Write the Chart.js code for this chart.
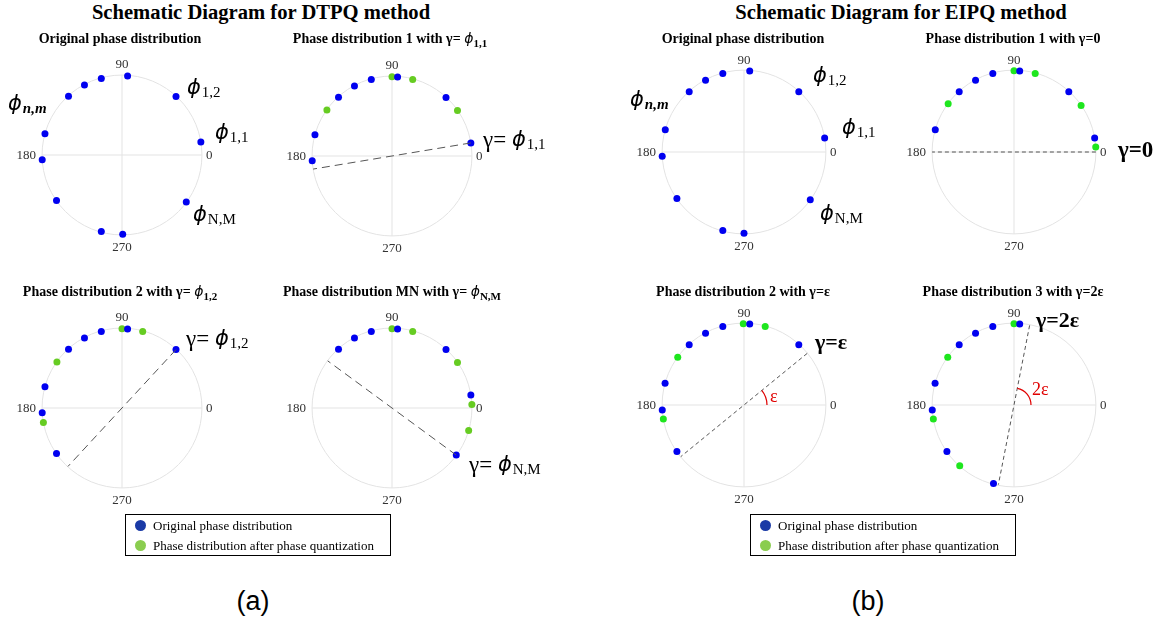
<!DOCTYPE html>
<html>
<head>
<meta charset="utf-8">
<script src="https://cdn.jsdelivr.net/npm/chart.js@4.4.1/dist/chart.umd.min.js"></script>
<style>
  body { margin: 0; background: #fff; }
  #page { position: relative; width: 1158px; height: 621px; overflow: hidden; font-family: "Liberation Serif", "Times New Roman", serif; color: #000; }
  .main { position: absolute; top: 0; width: 420px; font-size: 20.6px; font-weight: bold; line-height: 24px; text-align: center; white-space: nowrap; }
  .sub { position: absolute; width: 280px; font-size: 14px; font-weight: bold; line-height: 16px; text-align: center; white-space: nowrap; z-index: 2; }
  .sub sub { font-size: 11px; vertical-align: -4px; line-height: 0; }
  .phi { font-family: "DejaVu Sans", sans-serif; font-style: italic; font-weight: normal; font-size: 14px; }
  canvas { position: absolute; }
  .legend { position: absolute; border: 1px solid #000; width: 264px; height: 40px; font-size: 13px; }
  .legend .row { position: absolute; left: 0; height: 20px; line-height: 20px; white-space: nowrap; }
  .legend .dot { position: absolute; left: 9px; top: 4px; width: 11px; height: 11px; border-radius: 50%; }
  .legend .txt { position: absolute; left: 27px; top: 0; }
  .tag { position: absolute; width: 80px; text-align: center; font-family: "Liberation Sans", Arial, sans-serif; font-size: 27px; line-height: 30px; }
</style>
</head>
<body>
<div id="page">
  <div class="main" style="left:51px;">Schematic Diagram for DTPQ method</div>
  <div class="main" style="left:691px;">Schematic Diagram for EIPQ method</div>

  <div class="sub" style="left:-20px; top:31px;">Original phase distribution</div>
  <div class="sub" style="left:250px; top:30px;">Phase distribution 1 with γ= <span class="phi">ϕ</span><sub>1,1</sub></div>
  <div class="sub" style="left:-20px; top:283px;">Phase distribution 2 with γ= <span class="phi">ϕ</span><sub>1,2</sub></div>
  <div class="sub" style="left:252px; top:283px;">Phase distribution MN with γ= <span class="phi">ϕ</span><sub>N,M</sub></div>

  <div class="sub" style="left:603px; top:31px;">Original phase distribution</div>
  <div class="sub" style="left:873px; top:31px;">Phase distribution 1 with γ=0</div>
  <div class="sub" style="left:603px; top:284px;">Phase distribution 2 with γ=ε</div>
  <div class="sub" style="left:873px; top:284px;">Phase distribution 3 with γ=2ε</div>

  <canvas id="p1" width="320" height="236"></canvas>
  <canvas id="p2" width="320" height="236"></canvas>
  <canvas id="p3" width="320" height="236"></canvas>
  <canvas id="p4" width="320" height="236"></canvas>
  <canvas id="p5" width="320" height="236"></canvas>
  <canvas id="p6" width="320" height="236"></canvas>
  <canvas id="p7" width="320" height="236"></canvas>
  <canvas id="p8" width="320" height="236"></canvas>

  <div class="legend" style="left:125px; top:514px;">
    <div class="row" style="top:1px;"><span class="dot" style="background:#1a3aa6;"></span><span class="txt">Original phase distribution</span></div>
    <div class="row" style="top:21px;"><span class="dot" style="background:#8acd4f;"></span><span class="txt">Phase distribution after phase quantization</span></div>
  </div>
  <div class="legend" style="left:750px; top:514px;">
    <div class="row" style="top:1px;"><span class="dot" style="background:#1a3aa6;"></span><span class="txt">Original phase distribution</span></div>
    <div class="row" style="top:21px;"><span class="dot" style="background:#8acd4f;"></span><span class="txt">Phase distribution after phase quantization</span></div>
  </div>

  <div class="tag" style="left:213px; top:586px;">(a)</div>
  <div class="tag" style="left:828px; top:586px;">(b)</div>
</div>

<script>
// angle tick labels of every polar panel (degrees)
const angleTicks = [0, 90, 180, 270];

// DTPQ method, phases in degrees
const dtpqOriginal = [9.5, 47.5, 86, 105, 118, 132, 164.5, 183.5, 215, 255, 270.5, 323.5];
const dtpq1Orig = [9.5, 47.5, 86, 105, 118, 132, 164.5, 183.5];
const dtpq1Quant = [35, 75, 90, 144.5];
const dtpq2Orig = [47.5, 86, 105, 118, 132, 164.5, 183.5, 215];
const dtpq2Quant = [75, 90, 144.5, 190.5];
const dtpqMNOrig = [323.5, 9.5, 47.5, 86, 105, 118, 132];
const dtpqMNQuant = [343.5, 2.5, 35, 75, 90];
const dtpqGamma = [9.5, 47.5, 323.5];

// EIPQ method, phases in degrees
const eipqOriginal = [10, 48, 86, 105, 118, 132, 164, 183, 215, 255, 270, 324];
const eipq1Orig = [10, 48, 86, 105, 118, 132, 164];
const eipq1Quant = [3.5, 35, 75, 90, 143.5];
const eipq2Orig = [48, 86, 105, 118, 132, 164.5, 183.5, 215];
const eipq2Quant = [75, 90.5, 144, 190];
const eipq3Orig = [86, 105, 118, 132, 164.5, 183.5, 215, 255.5];
const eipq3Quant = [90, 144, 190, 228.5];
const eipqGamma = [0, 39.5, 79];

const BLUE = "#0000f0";
const GREEN_DTPQ = "#66cc22";
const GREEN_EIPQ = "#1ee61e";

function toXY(deg) {
  const a = (deg * Math.PI) / 180;
  return { x: Math.cos(a), y: Math.sin(a) };
}

function drawPhi(ctx, x, y, sub, subItalic) {
  ctx.textAlign = "left";
  ctx.textBaseline = "middle";
  ctx.font = 'italic 21px "DejaVu Sans"';
  ctx.fillText("ϕ", x, y);
  const w = ctx.measureText("ϕ").width;
  ctx.font = (subItalic ? "italic bold " : "") + '15px "Liberation Serif"';
  ctx.fillText(sub, x + w + 1, y + 4);
}

function drawGamma(ctx, x, y, sub) {
  ctx.textAlign = "left";
  ctx.textBaseline = "middle";
  ctx.font = '23px "Liberation Serif"';
  ctx.fillText("γ=", x, y);
  const w = ctx.measureText("γ= ").width;
  drawPhi(ctx, x + w, y, sub, false);
}

function makeGrid(panel) {
  return {
    id: "polarGrid",
    beforeDatasetsDraw(chart) {
      const ctx = chart.ctx;
      const xs = chart.scales.x, ys = chart.scales.y;
      const cx = xs.getPixelForValue(0), cy = ys.getPixelForValue(0);
      const r = xs.getPixelForValue(1) - cx;
      ctx.save();
      ctx.strokeStyle = "#e3e3e3";
      ctx.lineWidth = 1;
      ctx.beginPath();
      ctx.arc(cx, cy, r, 0, Math.PI * 2);
      ctx.stroke();
      ctx.beginPath();
      ctx.moveTo(cx - r, cy); ctx.lineTo(cx + r, cy);
      ctx.moveTo(cx, cy - r); ctx.lineTo(cx, cy + r);
      ctx.stroke();
      ctx.fillStyle = "#333";
      ctx.font = '13px "Liberation Serif"';
      ctx.textBaseline = "middle";
      angleTicks.forEach((t) => {
        const p = toXY(t);
        let tx = cx + p.x * r, ty = cy - p.y * r;
        if (t === 0) { ctx.textAlign = "left"; tx += 4; ty += 1; }
        else if (t === 180) { ctx.textAlign = "right"; tx -= 6; ty += 1; }
        else if (t === 90) { ctx.textAlign = "center"; ty -= 10; }
        else { ctx.textAlign = "center"; ty += 13; }
        ctx.fillText(String(t), tx, ty);
      });
      ctx.restore();
    },
    afterDatasetsDraw(chart) {
      const ctx = chart.ctx;
      const xs = chart.scales.x, ys = chart.scales.y;
      const cx = xs.getPixelForValue(0), cy = ys.getPixelForValue(0);
      ctx.save();
      ctx.fillStyle = "#000";
      (panel.labels || []).forEach((l) => {
        if (l.kind === "phi") drawPhi(ctx, cx + l.dx, cy + l.dy, l.sub, l.italic);
        else if (l.kind === "gamma") drawGamma(ctx, cx + l.dx, cy + l.dy, l.sub);
        else {
          ctx.fillStyle = l.color || "#000";
          ctx.font = l.font;
          ctx.textAlign = "left";
          ctx.textBaseline = "middle";
          ctx.fillText(l.text, cx + l.dx, cy + l.dy);
          ctx.fillStyle = "#000";
        }
      });
      if (panel.arc) {
        ctx.strokeStyle = "#e00000";
        ctx.lineWidth = 1.2;
        ctx.beginPath();
        ctx.arc(cx, cy, panel.arc.r, 0, -(panel.arc.deg * Math.PI) / 180, true);
        ctx.stroke();
      }
      ctx.restore();
    },
  };
}

function makePanel(panel) {
  const canvas = document.getElementById(panel.id);
  const W = canvas.width, H = canvas.height;
  canvas.style.left = panel.cx - W / 2 + "px";
  canvas.style.top = panel.cy - H / 2 + "px";
  const ax = W / (2 * panel.r), ay = H / (2 * panel.r);

  const datasets = [];
  if (panel.gamma !== undefined) {
    datasets.push({
      data: [toXY(panel.gamma), toXY(panel.gamma + 180)],
      showLine: true,
      borderColor: "#555",
      borderWidth: 1,
      borderDash: panel.dash,
      pointRadius: 0,
    });
  }
  datasets.push({
    data: panel.orig.map(toXY),
    backgroundColor: BLUE,
    borderWidth: 0,
    pointRadius: 3.5,
  });
  if (panel.quant) {
    datasets.push({
      data: panel.quant.map(toXY),
      backgroundColor: panel.green,
      borderWidth: 0,
      pointRadius: 3.5,
    });
  }

  new Chart(canvas, {
    type: "scatter",
    data: { datasets: datasets },
    options: {
      responsive: false,
      animation: false,
      events: [],
      layout: { padding: 0 },
      plugins: { legend: { display: false }, tooltip: { enabled: false } },
      scales: {
        x: { type: "linear", min: -ax, max: ax, display: false },
        y: { type: "linear", min: -ay, max: ay, display: false },
      },
    },
    plugins: [makeGrid(panel)],
  });
}

const dtpqDash = [8, 5];
const eipqDash = [4, 3];

makePanel({
  id: "p1", cx: 122, cy: 155, r: 82, orig: dtpqOriginal,
  labels: [
    { kind: "phi", dx: 65, dy: -66, sub: "1,2" },
    { kind: "phi", dx: 93, dy: -21, sub: "1,1" },
    { kind: "phi", dx: -114, dy: -50, sub: "n,m", italic: true },
    { kind: "phi", dx: 71, dy: 61, sub: "N,M" },
  ],
});
makePanel({
  id: "p2", cx: 392, cy: 155.5, r: 82, orig: dtpq1Orig, quant: dtpq1Quant,
  green: GREEN_DTPQ, gamma: dtpqGamma[0], dash: dtpqDash,
  labels: [{ kind: "gamma", dx: 91, dy: -15, sub: "1,1" }],
});
makePanel({
  id: "p3", cx: 122, cy: 408, r: 82, orig: dtpq2Orig, quant: dtpq2Quant,
  green: GREEN_DTPQ, gamma: dtpqGamma[1], dash: dtpqDash,
  labels: [{ kind: "gamma", dx: 64, dy: -68, sub: "1,2" }],
});
makePanel({
  id: "p4", cx: 392, cy: 408, r: 82, orig: dtpqMNOrig, quant: dtpqMNQuant,
  green: GREEN_DTPQ, gamma: dtpqGamma[2], dash: dtpqDash,
  labels: [{ kind: "gamma", dx: 77, dy: 58, sub: "N,M" }],
});

makePanel({
  id: "p5", cx: 744, cy: 152, r: 84, orig: eipqOriginal,
  labels: [
    { kind: "phi", dx: 69, dy: -75, sub: "1,2" },
    { kind: "phi", dx: 98, dy: -23, sub: "1,1" },
    { kind: "phi", dx: -114, dy: -51, sub: "n,m", italic: true },
    { kind: "phi", dx: 76, dy: 63, sub: "N,M" },
  ],
});
makePanel({
  id: "p6", cx: 1014, cy: 152, r: 84, orig: eipq1Orig, quant: eipq1Quant,
  green: GREEN_EIPQ, gamma: eipqGamma[0], dash: eipqDash,
  labels: [{ kind: "text", text: "γ=0", font: 'bold 23px "Liberation Serif"', dx: 104, dy: -1 }],
});
makePanel({
  id: "p7", cx: 744, cy: 405, r: 84, orig: eipq2Orig, quant: eipq2Quant,
  green: GREEN_EIPQ, gamma: eipqGamma[1], dash: eipqDash,
  arc: { r: 23, deg: eipqGamma[1] },
  labels: [
    { kind: "text", text: "γ=ε", font: 'bold 22px "Liberation Serif"', dx: 71, dy: -62 },
    { kind: "text", text: "ε", font: '18px "Liberation Serif"', color: "#e00000", dx: 26, dy: -8 },
  ],
});
makePanel({
  id: "p8", cx: 1014, cy: 405, r: 84, orig: eipq3Orig, quant: eipq3Quant,
  green: GREEN_EIPQ, gamma: eipqGamma[2], dash: eipqDash,
  arc: { r: 17, deg: eipqGamma[2] },
  labels: [
    { kind: "text", text: "γ=2ε", font: 'bold 22px "Liberation Serif"', dx: 22, dy: -84 },
    { kind: "text", text: "2ε", font: '18px "Liberation Serif"', color: "#e00000", dx: 18, dy: -15 },
  ],
});
</script>
</body>
</html>
